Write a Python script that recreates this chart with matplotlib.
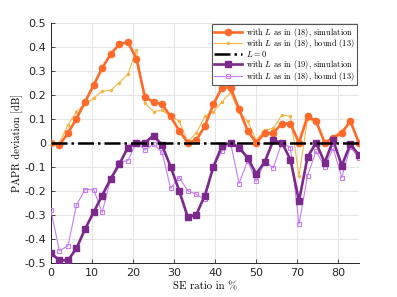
import numpy as np
import matplotlib
matplotlib.use("Agg")
import matplotlib.pyplot as plt

plt.rcParams['mathtext.fontset'] = 'cm'
plt.rcParams['axes.unicode_minus'] = False

# 37 SE ratio sample points spread over the axis
se_ratio = np.arange(37) * 75 / 36

sim_18 = [0.0, -0.01, 0.04, 0.10, 0.17, 0.24, 0.31, 0.37, 0.41, 0.42,
          0.35, 0.19, 0.17, 0.16, 0.11, 0.05, 0.0, 0.01, 0.07, 0.16,
          0.23, 0.23, 0.14, 0.05, 0.0, 0.04, 0.04, 0.08, 0.08, 0.0,
          0.11, 0.09, 0.0, 0.02, 0.04, 0.09, 0.0]
bound_18 = [0.0, 0.0, 0.074, 0.13, 0.16, 0.185, 0.215, 0.218, 0.25, 0.285,
            0.385, 0.164, 0.13, 0.135, 0.11, 0.09, 0.004, 0.04, 0.11, 0.13,
            0.17, 0.21, 0.127, 0.09, 0.01, 0.053, 0.06, 0.115, 0.11, -0.14,
            0.10, 0.085, 0.0, 0.025, 0.05, 0.09, 0.0]
l_zero = [0.0] * 37
sim_19 = [-0.46, -0.49, -0.49, -0.44, -0.36, -0.29, -0.22, -0.15, -0.09, -0.02,
          0.0, 0.0, 0.03, -0.01, -0.10, -0.20, -0.31, -0.30, -0.22, -0.10,
          -0.013, 0.0, -0.02, -0.063, -0.13, -0.08, 0.01, 0.0, -0.07, -0.243,
          -0.06, 0.0, -0.083, 0.01, -0.095, -0.007, -0.05]
bound_19 = [-0.28, -0.45, -0.43, -0.26, -0.195, -0.195, -0.29, -0.15, -0.08, -0.075,
            0.0, -0.03, -0.007, -0.04, -0.19, -0.145, -0.20, -0.215, -0.236, -0.10,
            -0.035, 0.0, -0.17, -0.075, -0.16, -0.08, -0.105, 0.0, -0.02, -0.34,
            -0.137, -0.035, -0.10, -0.024, -0.145, -0.017, -0.065]

tick_pos = [0, 10, 20, 30, 40, 50, 60, 70]
tick_labels = ['0', '10', '20', '30', '40', '50', '70', '80']

fig = plt.figure(figsize=(3.97, 2.97), dpi=100)
ax = fig.add_axes([0.128, 0.1155, 0.776, 0.808])

ax.plot(se_ratio, sim_18, '-o', color='#ff6a2a', lw=1.9, ms=4.5,
        label=r'with $L$ as in (18), simulation', zorder=4)
ax.plot(se_ratio, bound_18, '-o', color='#f7b543', lw=0.8, ms=1.5,
        label=r'with $L$ as in (18), bound (13)', zorder=3)
ax.plot(se_ratio, l_zero, '-.', color='black', lw=1.8,
        label=r'$L=0$', zorder=5)
ax.plot(se_ratio, sim_19, '-s', color='#7b2a8c', lw=1.9, ms=4,
        label=r'with $L$ as in (19), simulation', zorder=4)
ax.plot(se_ratio, bound_19, '-s', color='#c57dfa', lw=0.8, ms=3.5,
        mfc='none', mew=0.8, label=r'with $L$ as in (18), bound (13)', zorder=3)

ax.set_xlim(0, 75)
ax.set_ylim(-0.5, 0.5)
ax.set_xticks(tick_pos)
ax.set_xticklabels(tick_labels)
ax.set_yticks(np.arange(-0.5, 0.51, 0.1))
ax.set_yticklabels(['-0.5', '-0.4', '-0.3', '-0.2', '-0.1', '0',
                    '0.1', '0.2', '0.3', '0.4', '0.5'])
ax.tick_params(direction='in', length=3, labelsize=8, colors='#262626',
               width=0.6)
ax.grid(True, color='#e6e6e6', lw=0.8)
ax.set_axisbelow(True)
for s in ['top', 'right']:
    ax.spines[s].set_visible(False)
for s in ['left', 'bottom']:
    ax.spines[s].set_color('#262626')
    ax.spines[s].set_linewidth(0.7)

ax.set_xlabel('SE ratio in %', family='cmr10', fontsize=7.8, labelpad=3)
ax.set_ylabel('PAPR deviation [dB]', family='cmr10', fontsize=7.6, labelpad=1)

leg = ax.legend(loc='upper right', bbox_to_anchor=(0.995, 1.0),
                prop={'family': 'cmr10', 'size': 6}, fancybox=False,
                framealpha=1, edgecolor='#555555', borderpad=0.25,
                labelspacing=-0.15, handlelength=3.4, handletextpad=0.4,
                borderaxespad=0.1)
leg.get_frame().set_linewidth(0.8)

fig.savefig('out.png', dpi=100)
